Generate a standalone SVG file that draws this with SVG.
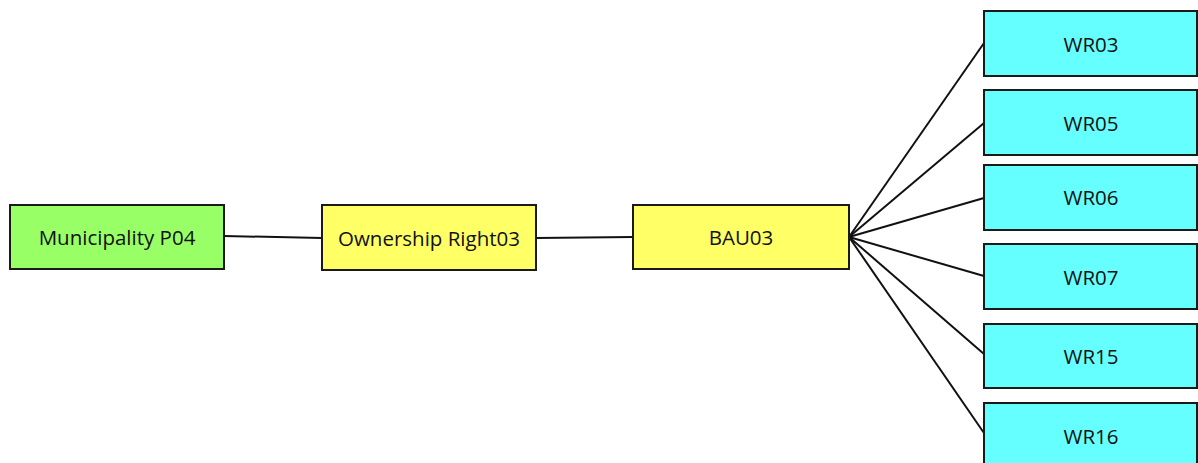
<svg xmlns="http://www.w3.org/2000/svg" width="1198" height="463" viewBox="0 0 1198 463">
<style>
rect{stroke:#1a1a1a;stroke-width:2}
.g{fill:#99ff66}.y{fill:#ffff66}.c{fill:#66ffff}
text{font-family:"Open Sans","Noto Sans",sans-serif;font-size:20.5px;fill:#111;text-anchor:middle;dominant-baseline:central}
#connectors line{stroke:#111;stroke-width:2}
</style>
<rect width="1198" height="463" fill="#fff" style="stroke:none"/>
<g id="connectors">
<line x1="224" y1="236" x2="322" y2="238"/>
<line x1="536" y1="238" x2="633" y2="237"/>
<line x1="849" y1="237" x2="984" y2="43"/>
<line x1="849" y1="237" x2="984" y2="123"/>
<line x1="849" y1="237" x2="984" y2="198"/>
<line x1="849" y1="237" x2="984" y2="276"/>
<line x1="849" y1="237" x2="984" y2="354"/>
<line x1="849" y1="237" x2="984" y2="433"/>
</g>
<g id="municipality"><rect class="g" x="10" y="205" width="214" height="64"/><text x="117" y="237">Municipality P04</text></g>
<g id="ownership"><rect class="y" x="322" y="205" width="214" height="65"/><text x="429" y="238">Ownership Right03</text></g>
<g id="bau03"><rect class="y" x="633" y="205" width="216" height="64"/><text x="741" y="237">BAU03</text></g>
<g id="wr03"><rect class="c" x="984" y="11" width="213" height="65"/><text x="1091" y="44">WR03</text></g>
<g id="wr05"><rect class="c" x="984" y="90" width="213" height="65"/><text x="1091" y="123">WR05</text></g>
<g id="wr06"><rect class="c" x="984" y="165" width="213" height="65"/><text x="1091" y="197">WR06</text></g>
<g id="wr07"><rect class="c" x="984" y="244" width="213" height="65"/><text x="1091" y="277">WR07</text></g>
<g id="wr15"><rect class="c" x="984" y="324" width="213" height="64"/><text x="1091" y="356">WR15</text></g>
<g id="wr16"><rect class="c" x="984" y="403" width="213" height="65"/><text x="1091" y="436">WR16</text></g>
</svg>
